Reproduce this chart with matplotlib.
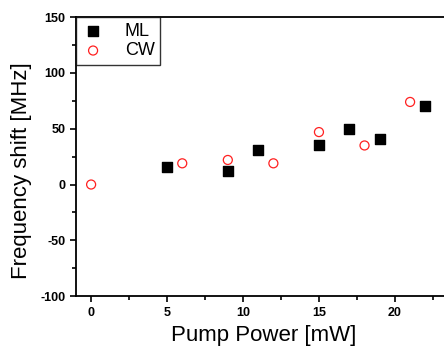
import matplotlib
matplotlib.use("Agg")
import matplotlib.pyplot as plt
from matplotlib.ticker import MultipleLocator

plt.rcParams['font.family'] = ['Liberation Sans', 'DejaVu Sans']
plt.rcParams['axes.unicode_minus'] = False

# data
ml_power = [5, 9, 11, 15, 17, 19, 22]
ml_shift = [16, 12, 31, 35, 50, 41, 70]
cw_power = [0, 6, 9, 12, 15, 18, 21]
cw_shift = [0, 19, 22, 19, 47, 35, 74]

fig = plt.figure(figsize=(4.44, 3.5), dpi=100)
ax = fig.add_axes([0.171, 0.154, 0.845, 0.797])

ax.scatter(ml_power, ml_shift, marker='s', s=42, color='black', label='ML', zorder=3)
ax.scatter(cw_power, cw_shift, marker='o', s=42, facecolors='none',
           edgecolors='#ff2020', linewidths=0.9, label='CW', zorder=3)

ax.set_xlim(-1, 23.7)
ax.set_ylim(-100, 150)
ax.xaxis.set_major_locator(MultipleLocator(5))
ax.xaxis.set_minor_locator(MultipleLocator(2.5))
ax.yaxis.set_major_locator(MultipleLocator(50))
ax.yaxis.set_minor_locator(MultipleLocator(25))
ax.tick_params(which='both', direction='out', width=1.2, labelsize=9)
ax.tick_params(which='major', length=4)
ax.tick_params(which='minor', length=3)
for lab in ax.get_xticklabels() + ax.get_yticklabels():
    lab.set_fontweight('bold')
for s in ax.spines.values():
    s.set_linewidth(1.3)

ax.set_xlabel('Pump Power [mW]', fontsize=16, labelpad=5)
ax.set_ylabel('Frequency shift [MHz]', fontsize=16, labelpad=6)
ax.yaxis.label.set_y(0.45)

leg = ax.legend(loc='upper left', fontsize=13, frameon=True, fancybox=False,
                borderaxespad=0, handletextpad=1.1, borderpad=0.3,
                labelspacing=0.15, handlelength=1.3)
leg.get_frame().set_edgecolor('black')
leg.get_frame().set_linewidth(1.0)

fig.savefig('out.png', dpi=100)
